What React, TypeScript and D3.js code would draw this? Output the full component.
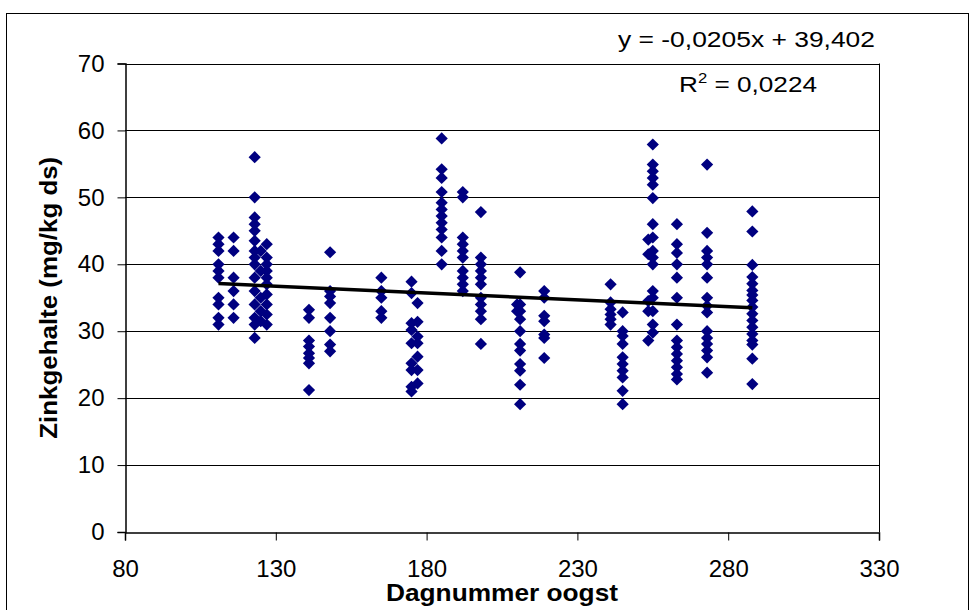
import React, { useRef, useEffect } from 'react'
import * as d3 from 'd3'

// harvest day numbers (one vertical column of samples per day)
const harvestDays = [111, 116, 123, 125, 127, 141, 148, 165, 175, 177, 185, 192, 198, 210, 211, 219, 241, 245, 253.5, 255, 263, 273, 288]

// zinc content (mg/kg ds) per harvest day, same order as harvestDays
const zincValues = [
    [31, 32, 34, 35, 38, 39, 40, 42, 43, 44],
    [32, 34, 36, 38, 42, 44],
    [29, 31, 32, 34, 36, 38, 40, 41, 42, 43.5, 45, 46, 47, 50, 56],
    [31.5, 33, 35, 39, 42],
    [31, 32.5, 34, 35.5, 37, 38, 39, 40, 41, 43],
    [21.2, 25.2, 26, 26.7, 27.7, 28.6, 32, 33.2],
    [27, 28, 30, 32, 34.2, 35.2, 36, 41.8],
    [32, 33, 35, 36, 38],
    [21, 21.7, 24.2, 25.2, 28.2, 30.2, 31.2, 35.7, 37.4],
    [22.2, 24.2, 26.2, 28.2, 29.2, 31.4, 34.2],
    [40, 42, 44, 45.2, 46.2, 47.2, 48.2, 49.2, 50.8, 52.9, 54.2, 58.8],
    [36, 37, 38, 39, 41, 42, 43, 44, 50, 50.8],
    [28.1, 31.8, 33, 34, 35, 37, 38, 39, 40, 41, 47.8],
    [33, 34],
    [19.1, 22, 24.1, 25.1, 27.1, 28.1, 30, 31.8, 33, 34, 38.8],
    [26, 29, 29.5, 31.5, 32.3, 35, 36],
    [31, 31.8, 32.5, 33.3, 34.3, 37],
    [19.1, 21.1, 23.1, 24.1, 25.1, 26.1, 28.1, 29.3, 30, 32.8],
    [28.6, 33, 34.5, 41.5, 43.7],
    [29.8, 31, 33, 35, 36, 40, 41, 42, 44, 46, 49.9, 51.9, 52.9, 53.9, 54.9, 57.9],
    [22.8, 23.6, 24.6, 25.6, 26.6, 27.6, 28.6, 31, 35, 38, 40, 41.7, 43, 46],
    [23.8, 26.1, 27.1, 28.1, 29, 30, 32.8, 33.8, 35, 38, 40, 41, 42, 44.7, 54.9],
    [22.1, 25.9, 28, 28.6, 29.6, 30.6, 31.6, 32.6, 33.6, 34.6, 35.4, 36.1, 37.1, 38.1, 39.9, 44.9, 47.9],
]

const xTicks = [80, 130, 180, 230, 280, 330]
const yTicks = [0, 10, 20, 30, 40, 50, 60, 70]

// linear trend as shown on the chart
const trendSlope = -0.0205
const trendIntercept = 39.402
const trendLabel = 'y = -0,0205x + 39,402'
const r2Value = '0,0224'

export default function App() {
    const svgRef = useRef<SVGSVGElement>(null)

    const width = 971
    const height = 610

    // plot area edges
    const marginLeft = 125
    const marginRight = 92
    const marginTop = 63.5
    const marginBottom = 78

    useEffect(() => {
        const svg = d3.select(svgRef.current)
        svg.selectAll('*').remove()

        const font = 'Arial, "Liberation Sans", sans-serif'

        const xScale = d3.scaleLinear()
            .domain([80, 330])
            .range([marginLeft, width - marginRight])

        const yScale = d3.scaleLinear()
            .domain([0, 70])
            .range([height - marginBottom, marginTop])

        // outer chart frame (bottom edge runs off the picture)
        svg.append('rect')
            .attr('x', 6.5)
            .attr('y', 13.5)
            .attr('width', 962)
            .attr('height', 640)
            .attr('fill', 'white')
            .attr('stroke', 'black')
            .attr('stroke-width', 1)

        // gridlines
        svg.append('g')
            .selectAll('line')
            .data(yTicks.slice(1))
            .join('line')
                .attr('x1', xScale(80))
                .attr('x2', xScale(330))
                .attr('y1', d => Math.round(yScale(d)) + 0.5)
                .attr('y2', d => Math.round(yScale(d)) + 0.5)
                .attr('stroke', 'black')
                .attr('stroke-width', 1)

        // plot area right border
        svg.append('line')
            .attr('x1', xScale(330) + 0.5)
            .attr('x2', xScale(330) + 0.5)
            .attr('y1', yScale(70))
            .attr('y2', yScale(0))
            .attr('stroke', 'black')

        // y axis
        const yAxis = svg.append('g')
            .attr('transform', `translate(${xScale(80) + 0.5},0)`)
            .call(d3.axisLeft(yScale).tickValues(yTicks).tickSize(8).tickPadding(13).tickFormat(d3.format('d')))
        yAxis.select('.domain').attr('stroke', 'black').attr('stroke-width', 1.5)
        yAxis.selectAll('.tick line').attr('stroke', 'black')
        yAxis.selectAll('.tick text')
            .attr('font-family', font)
            .attr('font-size', 24)
            .attr('fill', 'black')

        // x axis
        const xAxis = svg.append('g')
            .attr('transform', `translate(0,${Math.round(yScale(0)) + 0.5})`)
            .call(d3.axisBottom(xScale).tickValues(xTicks).tickSize(8).tickPadding(19).tickFormat(d3.format('d')))
        xAxis.select('.domain').attr('stroke', 'black').attr('stroke-width', 1.5)
        xAxis.selectAll('.tick line').attr('stroke', 'black')
        xAxis.selectAll('.tick text')
            .attr('font-family', font)
            .attr('font-size', 24)
            .attr('fill', 'black')

        // points
        const points = harvestDays.flatMap((day, i) => zincValues[i].map(v => ({ day, v })))
        const diamond = d3.symbol().type(d3.symbolDiamond2).size(95)
        svg.append('g')
            .selectAll('path')
            .data(points)
            .join('path')
                .attr('d', diamond)
                .attr('transform', d => `translate(${xScale(d.day)},${yScale(d.v)})`)
                .attr('fill', '#000080')

        // trend line over the data range
        const xMin = d3.min(harvestDays) as number
        const xMax = d3.max(harvestDays) as number
        const trend = d3.line<number>()
            .x(d => xScale(d))
            .y(d => yScale(trendSlope * d + trendIntercept))
        svg.append('path')
            .attr('d', trend([xMin, xMax]))
            .attr('fill', 'none')
            .attr('stroke', 'black')
            .attr('stroke-width', 3.5)

        // equation labels
        svg.append('text')
            .attr('x', 618)
            .attr('y', 47)
            .attr('font-family', font)
            .attr('font-size', 22)
            .attr('textLength', 257)
            .attr('lengthAdjust', 'spacingAndGlyphs')
            .text(trendLabel)

        const r2 = svg.append('text')
            .attr('x', 679)
            .attr('y', 92)
            .attr('font-family', font)
            .attr('font-size', 22)
            .attr('textLength', 138)
            .attr('lengthAdjust', 'spacingAndGlyphs')
        r2.append('tspan').text('R')
        r2.append('tspan').attr('dy', -9).attr('font-size', 14).text('2')
        r2.append('tspan').attr('dy', 9).text(` = ${r2Value}`)

        // axis titles
        svg.append('text')
            .attr('x', (xScale(80) + xScale(330)) / 2)
            .attr('y', 601)
            .attr('text-anchor', 'middle')
            .attr('font-family', font)
            .attr('font-weight', 'bold')
            .attr('font-size', 24)
            .attr('textLength', 232)
            .attr('lengthAdjust', 'spacingAndGlyphs')
            .text('Dagnummer oogst')

        svg.append('text')
            .attr('transform', `translate(57,${(yScale(0) + yScale(70)) / 2}) rotate(-90)`)
            .attr('text-anchor', 'middle')
            .attr('font-family', font)
            .attr('font-weight', 'bold')
            .attr('font-size', 24)
            .attr('textLength', 282)
            .attr('lengthAdjust', 'spacingAndGlyphs')
            .text('Zinkgehalte (mg/kg ds)')
    }, [])

    return (
        <svg ref={svgRef} width={width} height={height}
            style={{ position: 'absolute', left: 0, top: 0, display: 'block', background: 'white' }} />
    )
}
